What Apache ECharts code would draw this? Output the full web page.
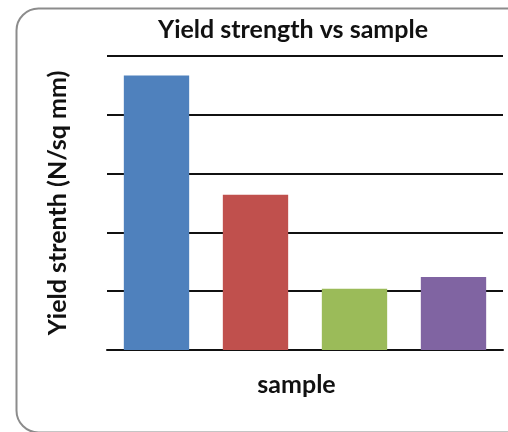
<!DOCTYPE html>
<html>
<head>
<meta charset="utf-8">
<script src="https://cdn.jsdelivr.net/npm/echarts@6/dist/echarts.min.js"></script>
<style>
  html, body { margin: 0; padding: 0; background: #fff; }
  #chart { width: 508px; height: 432px; }
</style>
</head>
<body>
<div id="chart"></div>
<script>
  // samples (no category labels shown in the original)
  var categories = ['1', '2', '3', '4'];
  var yieldValues = [4.67, 2.64, 1.04, 1.24];
  var barColors = ['#4f81bd', '#c0504d', '#9bbb59', '#8064a2'];
  var yTicks = [0, 1, 2, 3, 4, 5];

  var font = 'Lato, "Open Sans", sans-serif';

  var chart = echarts.init(document.getElementById('chart'));
  chart.setOption({
    animation: false,
    title: {
      text: 'Yield strength vs sample',
      left: 288,
      textAlign: 'center',
      top: 12,
      textStyle: { fontFamily: font, fontSize: 25, fontWeight: 'bold', color: '#111' }
    },
    graphic: [{
      type: 'rect',
      left: 14,
      top: 6,
      shape: { width: 530, height: 424, r: 22 },
      style: { fill: 'none', stroke: '#8c8c8c', lineWidth: 2 },
      z: 0
    }],
    grid: { left: 107, right: 5, top: 56, bottom: 82 },
    xAxis: {
      type: 'category',
      data: categories,
      name: 'sample',
      nameLocation: 'middle',
      nameGap: 22,
      nameTextStyle: { fontFamily: font, fontSize: 25, fontWeight: 'bold', color: '#111', padding: [0, 17, 0, 0] },
      axisLine: { lineStyle: { color: '#111', width: 2 } },
      axisTick: { show: false },
      axisLabel: { show: false }
    },
    yAxis: {
      type: 'value',
      min: yTicks[0],
      max: yTicks[yTicks.length - 1],
      interval: 1,
      name: 'Yield strenth (N/sq mm)',
      nameLocation: 'middle',
      nameGap: 37,
      nameTextStyle: { fontFamily: font, fontSize: 25, fontWeight: 'bold', color: '#111' },
      axisLine: { show: false },
      axisTick: { show: false },
      axisLabel: { show: false },
      splitLine: { lineStyle: { color: '#111', width: 2 } }
    },
    series: [{
      type: 'bar',
      barWidth: '66%',
      data: yieldValues.map(function (v, i) {
        return { value: v, itemStyle: { color: barColors[i] } };
      })
    }]
  });
</script>
</body>
</html>
